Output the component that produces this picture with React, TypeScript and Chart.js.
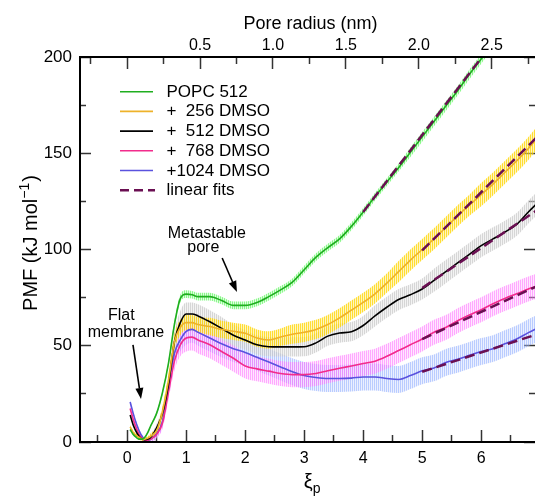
import React, { useEffect, useRef } from 'react';
import { Chart, registerables } from 'chart.js';

Chart.register(...registerables);

const FONT = '"Liberation Sans", Arial, Helvetica, sans-serif';

// ---------- data ----------
const xiGrid = [0.05, 0.1, 0.15, 0.2, 0.25, 0.3, 0.35, 0.4, 0.5, 0.6, 0.7, 0.8, 0.9, 1.0, 1.1, 1.2,
  1.4, 1.6, 1.8, 2.0, 2.2, 2.4, 2.6, 2.8, 3.0, 3.2, 3.4, 3.6, 3.8, 4.0, 4.2, 4.4, 4.6, 4.8, 5.0,
  5.2, 5.4, 5.6, 5.8, 6.0, 6.2, 6.4, 6.6, 6.8, 6.95];

const pmfPopc512 = [6.5, 4, 2.5, 1.5, 1.5, 2.5, 5, 8.5, 15, 26, 41, 61, 74.5, 76.8, 76.5, 75.5,
  75.5, 73.5, 71, 71, 72.5, 75.5, 79, 83, 89.5, 96, 101, 105.5, 112, 119.5, 127.5, 135, 142.5, 150.5, 158.5,
  166.5, 174.5, 182.5, 191, 199, 207, 215, 223, 231, 237];
const pmfDmso256 = [7.8, 5, 3.5, 2.5, 1.5, 1.5, 2, 3, 6, 16, 32, 52, 59.5, 62, 62, 61,
  60, 58.5, 57.5, 56.5, 54, 53, 54.5, 56, 57, 58.5, 61, 64.5, 68.5, 72.5, 77, 82.5, 88.5, 94.5, 100,
  105.5, 111.5, 117.5, 123, 128.5, 134, 140, 146, 152.5, 158];
const pmfDmso512 = [14, 9, 5.5, 3, 1.5, 1.2, 1.5, 2.5, 7.5, 15, 30, 52, 62, 66.5, 66.5, 65.5,
  62.5, 59, 55.5, 53, 50.5, 49.5, 49.4, 49.4, 49.5, 51.5, 55, 56.6, 57.3, 60.5, 65.5, 70, 74, 76.5, 79.5,
  84, 88.5, 93, 97.5, 102, 105.5, 109, 113, 119.5, 124];
const pmfDmso768 = [17.4, 12, 7.5, 4, 2, 1, 1, 1.5, 4, 10, 26, 42, 50.5, 54, 54.5, 53,
  50.5, 47, 43.5, 39.5, 38, 36.8, 35.6, 35, 35, 35.6, 37, 38.3, 39.5, 40.8, 42, 44.5, 47.5, 50.5, 53.5,
  57, 59.5, 63, 66, 68.7, 71.8, 74.5, 77, 79.5, 81];
const pmfDmso1024 = [20.8, 15, 10, 6, 3, 1.2, 0.9, 1.5, 4.4, 11, 29, 46, 53, 57.5, 58.5, 57,
  54, 51, 48.5, 46.5, 44, 41.5, 39, 36.5, 34.5, 33.5, 33, 33, 33.2, 33.8, 33.8, 33, 32.5, 34.5, 37,
  38.5, 41.3, 43, 45, 47, 48.5, 51, 53.5, 56.8, 59];

const errPopc512 = [0.5, 0.5, 0.5, 0.5, 0.5, 0.5, 0.5, 0.5, 0.8, 1, 1.5, 2, 2, 2, 2, 2,
  2, 2, 2, 2, 2, 2, 2, 2, 2, 2, 2, 2, 2, 2, 2, 2, 2, 2.5, 2.5,
  2.5, 2.5, 2.5, 2.5, 2.5, 2.5, 2.5, 2.5, 2.5, 2.5];
const errDmso256 = [1, 1, 1, 1, 1, 1, 1, 1.5, 2, 3, 3.5, 4, 4, 4, 4, 4,
  4.5, 4.5, 4.5, 4.5, 4.5, 4.5, 4.5, 5, 5, 5, 5, 5, 5, 5, 5, 5, 5.5, 5.5, 5.5,
  5.5, 5.5, 5.5, 5.5, 6, 6, 6, 6, 6, 6];
const errDmso512 = [1, 1, 1, 1, 1, 1, 1, 1.5, 2, 3, 4, 5, 6, 6, 6, 6,
  6, 6, 5.5, 5, 5, 5, 5, 5, 5, 5, 5, 5, 5, 5, 5.5, 5.5, 5.5, 5.5, 5.5,
  6, 6, 6, 6, 6, 6, 6, 6, 6, 6];
const errDmso768 = [1, 1, 1, 1, 1, 1, 1, 1.5, 2, 3, 4, 5, 6, 7, 7, 7,
  7, 7, 7, 6.5, 6.5, 6.5, 6.5, 6.5, 6.5, 6.5, 6.5, 6.5, 6.5, 6.5, 6.5, 6.5, 6.5, 6.5, 6.5,
  6.5, 6.5, 6.5, 6.5, 6.5, 6.5, 6.5, 6.5, 6.5, 6.5];
const errDmso1024 = [1, 1, 1, 1, 1, 1, 1, 1.5, 2, 3, 4, 5, 6, 7, 7, 7,
  7, 7, 7, 7, 7, 7, 7, 7, 7, 7, 7, 7, 7, 7, 7, 7, 7, 7, 7,
  7, 7, 7, 7, 7, 7, 7, 7, 7, 7];

const fitStartXi = [4.0, 5.0, 5.0, 5.0, 5.0];
const fitEndXi = [6.95, 6.95, 6.95, 6.95, 6.95];
const fitStartPmf = [119.5, 99.5, 80, 53.5, 36.5];
const fitEndPmf = [237.5, 158.5, 120.5, 81, 56];

const seriesLabels = ['POPC 512', '+  256 DMSO', '+  512 DMSO', '+  768 DMSO', '+1024 DMSO'];
const fitLabel = 'linear fits';

// ticks
const xiMajorTicks = [0, 1, 2, 3, 4, 5, 6];
const xiMinorTicks = [-0.5, 0.5, 1.5, 2.5, 3.5, 4.5, 5.5, 6.5];
const radiusLabelTicks = [0.5, 1.0, 1.5, 2.0, 2.5];
const radiusMajorTicks = [0, 0.5, 1.0, 1.5, 2.0, 2.5];
const radiusMinorTicks = [-0.25, 0.25, 0.75, 1.25, 1.75, 2.25, 2.75];
const pmfMajorTicks = [0, 50, 100, 150, 200];
const pmfMinorTicks = [25, 75, 125, 175];

// axis ranges
const XI_MIN = -0.8;
const XI_MAX = 6.912;
const NM_PER_XI = 0.4047;
const PMF_MIN = 0;
const PMF_MAX = 200;

// annotations (data coordinates)
const flatText = [[-0.1, 63.4, 'Flat'], [-0.02, 54.5, 'membrane']];
const flatArrow = [0.098, 50.4, 0.234, 22.3];
const metaText = [[1.35, 106, 'Metastable'], [1.29, 98.7, 'pore']];
const metaArrow = [1.61, 95.6, 1.86, 77.9];

// ---------- styles ----------
const lineColors = ['#1fae1f', '#eeb22a', '#000000', '#f22c8c', '#5a52de'];
const stripeColors = ['rgba(110,245,110,0.8)', 'rgba(255,214,0,0.8)', 'rgba(200,200,200,0.75)',
  'rgba(255,110,255,0.6)', 'rgba(140,170,255,0.6)'];
const gapColors = ['rgba(195,255,195,0.55)', 'rgba(255,236,130,0.5)', 'rgba(232,232,232,0.5)',
  'rgba(255,195,255,0.4)', 'rgba(205,218,255,0.4)'];
const FIT_COLOR = '#6a0f52';
const TICK_COLOR = '#333333';

function arrow(ctx: CanvasRenderingContext2D, x1: number, y1: number, x2: number, y2: number) {
  const ang = Math.atan2(y2 - y1, x2 - x1);
  const hl = 11, hw = 4;
  const bx = x2 - hl * Math.cos(ang), by = y2 - hl * Math.sin(ang);
  ctx.lineWidth = 1.6;
  ctx.beginPath(); ctx.moveTo(x1, y1); ctx.lineTo(bx, by); ctx.stroke();
  ctx.beginPath();
  ctx.moveTo(x2, y2);
  ctx.lineTo(bx - hw * Math.sin(ang), by + hw * Math.cos(ang));
  ctx.lineTo(bx + hw * Math.sin(ang), by - hw * Math.cos(ang));
  ctx.closePath(); ctx.fill();
}

const decorPlugin = {
  id: 'decor',
  afterDraw(chart: any) {
    const ctx: CanvasRenderingContext2D = chart.ctx;
    const a = chart.chartArea;
    const sx = chart.scales.x, sy = chart.scales.y;
    ctx.save();
    ctx.setLineDash([]);
    const seg = (x1: number, y1: number, x2: number, y2: number) => {
      ctx.beginPath(); ctx.moveTo(x1, y1); ctx.lineTo(x2, y2); ctx.stroke();
    };

    // axis titles
    ctx.fillStyle = '#000';
    ctx.textAlign = 'center';
    ctx.textBaseline = 'alphabetic';
    ctx.font = `18px ${FONT}`;
    ctx.fillText('Pore radius (nm)', (a.left + a.right) / 2 + 3, 29);

    ctx.font = `20px ${FONT}`;
    const xiW = ctx.measureText('ξ').width;
    const xiCx = sx.getPixelForValue(3) + 4;
    ctx.textAlign = 'left';
    ctx.fillText('ξ', xiCx - xiW / 2, 488);
    ctx.font = `14px ${FONT}`;
    ctx.fillText('p', xiCx + xiW / 2, 492.5);

    // y title, rotated
    ctx.save();
    ctx.translate(37, 243);
    ctx.rotate(-Math.PI / 2);
    ctx.font = `20px ${FONT}`;
    const main = 'PMF (kJ mol';
    const wMain = ctx.measureText(main).width;
    ctx.font = `14px ${FONT}`;
    const sup = '\u22121';
    const wSup = ctx.measureText(sup).width;
    ctx.font = `20px ${FONT}`;
    const wClose = ctx.measureText(')').width;
    const total = wMain + wSup + 1 + wClose;
    let cx = -total / 2;
    ctx.textAlign = 'left';
    ctx.fillText(main, cx, 0); cx += wMain;
    ctx.font = `14px ${FONT}`;
    ctx.fillText(sup, cx, -8); cx += wSup + 1;
    ctx.font = `20px ${FONT}`;
    ctx.fillText(')', cx, 0);
    ctx.restore();

    // legend
    const lx0 = 120, lx1 = 153, tx = 166.5, ly0 = 91.7, dy = 19.7;
    ctx.font = `17px ${FONT}`;
    ctx.textAlign = 'left';
    ctx.textBaseline = 'alphabetic';
    seriesLabels.forEach((lab, i) => {
      const y = ly0 + dy * i;
      ctx.strokeStyle = lineColors[i];
      ctx.lineWidth = 1.6;
      seg(lx0, y, lx1, y);
      ctx.fillStyle = '#000';
      ctx.fillText(lab, tx, y + 5);
    });
    {
      const y = ly0 + dy * 5;
      ctx.strokeStyle = FIT_COLOR;
      ctx.lineWidth = 2.5;
      ctx.setLineDash([9, 5]);
      seg(lx0, y, lx1 + 2, y);
      ctx.setLineDash([]);
      ctx.fillStyle = '#000';
      ctx.fillText(fitLabel, tx, y + 5);
    }

    // annotations
    ctx.fillStyle = '#000';
    ctx.strokeStyle = '#000';
    ctx.font = `16px ${FONT}`;
    ctx.textAlign = 'center';
    [...flatText, ...metaText].forEach((t: any) => {
      ctx.fillText(t[2], sx.getPixelForValue(t[0]), sy.getPixelForValue(t[1]));
    });
    [flatArrow, metaArrow].forEach(ar => {
      arrow(ctx, sx.getPixelForValue(ar[0]), sy.getPixelForValue(ar[1]),
        sx.getPixelForValue(ar[2]), sy.getPixelForValue(ar[3]));
    });
    ctx.restore();
  },
};

// inward tick marks, drawn by the scales themselves
const inwardGrid = (len: number) => ({
  display: true, drawOnChartArea: false, drawTicks: true, tickLength: -len,
  tickColor: TICK_COLOR, tickWidth: 1.5,
});

export default function App() {
  const ref = useRef<HTMLCanvasElement | null>(null);
  useEffect(() => {
    const canvas = ref.current;
    if (!canvas) return;
    const ctx = canvas.getContext('2d')!;

    const makePattern = (c1: string, c2: string) => {
      const p = document.createElement('canvas');
      p.width = 2; p.height = 1;
      const g = p.getContext('2d')!;
      g.fillStyle = c1; g.fillRect(0, 0, 1, 1);
      g.fillStyle = c2; g.fillRect(1, 0, 1, 1);
      return ctx.createPattern(p, 'repeat')!;
    };

    const allPmf = [pmfPopc512, pmfDmso256, pmfDmso512, pmfDmso768, pmfDmso1024];
    const allErr = [errPopc512, errDmso256, errDmso512, errDmso768, errDmso1024];

    const datasets: any[] = [];
    allPmf.forEach((ys, k) => {
      const err = allErr[k];
      datasets.push({
        data: xiGrid.map((x, i) => ({ x, y: ys[i] + err[i] })),
        fill: '+1', backgroundColor: makePattern(stripeColors[k], gapColors[k]),
        borderWidth: 0, pointRadius: 0, order: 3, cubicInterpolationMode: 'monotone',
      });
      datasets.push({
        data: xiGrid.map((x, i) => ({ x, y: ys[i] - err[i] })),
        fill: false, borderWidth: 0, pointRadius: 0, order: 3, cubicInterpolationMode: 'monotone',
      });
    });
    allPmf.forEach((ys, k) => {
      datasets.push({
        label: seriesLabels[k],
        data: xiGrid.map((x, i) => ({ x, y: ys[i] })),
        borderColor: lineColors[k], borderWidth: 1.6, pointRadius: 0, fill: false,
        order: 2, cubicInterpolationMode: 'monotone',
      });
    });
    fitStartXi.forEach((x0, k) => {
      datasets.push({
        label: fitLabel,
        data: [{ x: x0, y: fitStartPmf[k] }, { x: fitEndXi[k], y: fitEndPmf[k] }],
        borderColor: FIT_COLOR, borderWidth: 2.5, borderDash: [10, 5], pointRadius: 0,
        fill: false, order: 1,
      });
    });

    const tickFont = { family: FONT, size: 16 };
    const setTicks = (vals: number[]) => (s: any) => { s.ticks = vals.map(v => ({ value: v })); };
    const noBorder = { display: false };
    const frame = { display: true, color: '#000', width: 2, z: 1 };

    const chart = new Chart(canvas, {
      type: 'line',
      data: { datasets },
      options: {
        animation: false,
        responsive: false,
        devicePixelRatio: 1,
        events: [],
        layout: { padding: 0 },
        plugins: { legend: { display: false }, tooltip: { enabled: false }, title: { display: false } },
        scales: {
          x: {
            type: 'linear', position: 'bottom', weight: 1, min: XI_MIN, max: XI_MAX,
            afterBuildTicks: setTicks(xiMajorTicks),
            afterFit: (s: any) => { s.height = 54; },
            grid: inwardGrid(12),
            border: frame,
            ticks: { color: '#000', font: tickFont, padding: 19, maxRotation: 0, autoSkip: false,
              callback: (v: any) => String(v) },
          },
          xMinor: {
            type: 'linear', position: 'bottom', weight: 0, min: XI_MIN, max: XI_MAX,
            afterBuildTicks: setTicks(xiMinorTicks),
            afterFit: (s: any) => { s.height = 0; },
            grid: inwardGrid(7),
            border: noBorder,
            ticks: { display: false, autoSkip: false },
          },
          x2: {
            type: 'linear', position: 'top', weight: 1,
            min: XI_MIN * NM_PER_XI, max: XI_MAX * NM_PER_XI,
            afterBuildTicks: setTicks(radiusMajorTicks),
            afterFit: (s: any) => { s.height = 57; },
            grid: inwardGrid(12),
            border: frame,
            ticks: { color: '#000', font: tickFont, padding: 14, maxRotation: 0, autoSkip: false,
              callback: (v: any) => (radiusLabelTicks.includes(Number(v)) ? Number(v).toFixed(1) : '') },
          },
          x2Minor: {
            type: 'linear', position: 'top', weight: 0,
            min: XI_MIN * NM_PER_XI, max: XI_MAX * NM_PER_XI,
            afterBuildTicks: setTicks(radiusMinorTicks),
            afterFit: (s: any) => { s.height = 0; },
            grid: inwardGrid(7),
            border: noBorder,
            ticks: { display: false, autoSkip: false },
          },
          y: {
            type: 'linear', position: 'left', weight: 1, min: PMF_MIN, max: PMF_MAX,
            afterBuildTicks: setTicks(pmfMajorTicks),
            afterFit: (s: any) => { s.width = 80; },
            grid: inwardGrid(11),
            border: frame,
            ticks: { color: '#000', font: { family: FONT, size: 17 }, padding: 19, autoSkip: false,
              callback: (v: any) => String(v) },
          },
          yMinor: {
            type: 'linear', position: 'left', weight: 0, min: PMF_MIN, max: PMF_MAX,
            afterBuildTicks: setTicks(pmfMinorTicks),
            afterFit: (s: any) => { s.width = 0; },
            grid: inwardGrid(6),
            border: noBorder,
            ticks: { display: false, autoSkip: false },
          },
          y2: {
            type: 'linear', position: 'right', weight: 1, min: PMF_MIN, max: PMF_MAX,
            afterBuildTicks: setTicks(pmfMajorTicks),
            afterFit: (s: any) => { s.width = 0; },
            grid: inwardGrid(11),
            border: noBorder,
            ticks: { display: false, autoSkip: false },
          },
          y2Minor: {
            type: 'linear', position: 'right', weight: 0, min: PMF_MIN, max: PMF_MAX,
            afterBuildTicks: setTicks(pmfMinorTicks),
            afterFit: (s: any) => { s.width = 0; },
            grid: inwardGrid(6),
            border: noBorder,
            ticks: { display: false, autoSkip: false },
          },
        },
      } as any,
      plugins: [decorPlugin],
    });
    return () => chart.destroy();
  }, []);

  return (
    <div style={{ position: 'absolute', left: 0, top: 0, width: 535, height: 496, background: '#fff' }}>
      <canvas ref={ref} width={535} height={496} style={{ display: 'block' }} />
    </div>
  );
}
